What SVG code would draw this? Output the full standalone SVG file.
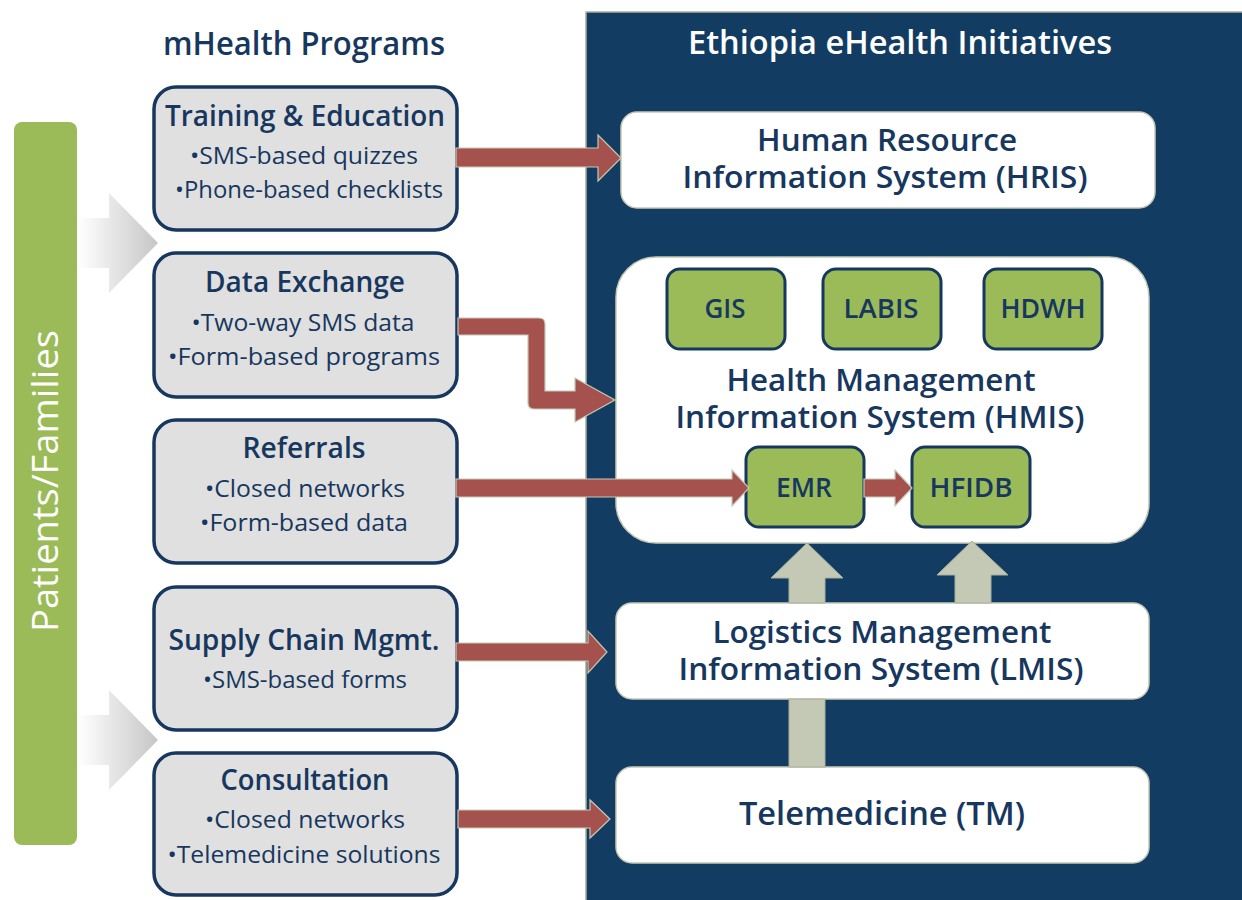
<svg xmlns="http://www.w3.org/2000/svg" width="1242" height="900" viewBox="0 0 1242 900">
<style>
  text { font-family: "Open Sans", "DejaVu Sans Condensed", "Liberation Sans", sans-serif; font-weight: 600; fill: #17375e; text-anchor: middle; }
  .hdr { font-size: 32px; }
  .hdrw { font-size: 32px; fill: #ffffff; }
  .prog { fill: #e0e0e0; stroke: #17375e; stroke-width: 3.5; }
  .ptitle { font-size: 28px; }
  .pbul { font-size: 24px; font-weight: 500; }
  .sys { fill: #ffffff; stroke: #c4c9b5; stroke-width: 1.5; }
  .systxt { font-size: 30px; }
  .sub { fill: #9bbb59; stroke: #17375e; stroke-width: 3; }
  .subtxt { font-size: 27px; }
  .red { fill: #a5524f; stroke: #c4c9b5; stroke-width: 1.2; }
  .up { fill: #c4c9b5; stroke: #a9ae98; stroke-width: 1; }
</style>
<defs>
  <linearGradient id="gArrow" x1="0" y1="0" x2="1" y2="0">
    <stop offset="0" stop-color="#ffffff"/>
    <stop offset="1" stop-color="#c6c6c6"/>
  </linearGradient>
</defs>
<rect x="0" y="0" width="1242" height="900" fill="#ffffff"/>

<g id="panel">
  <rect x="586" y="12" width="660" height="892" fill="#133c63" stroke="#a9ae98" stroke-width="1.5"/>
  <text class="hdrw" x="900" y="54" textLength="424" lengthAdjust="spacingAndGlyphs">Ethiopia eHealth Initiatives</text>
</g>

<g id="mhealth-title">
  <text class="hdr" x="304" y="55" textLength="282" lengthAdjust="spacingAndGlyphs">mHealth Programs</text>
</g>

<g id="patients">
  <rect x="14" y="122" width="63" height="723" rx="8" fill="#9bbb59"/>
  <text transform="translate(58,481) rotate(-90)" x="0" y="0" style="font-size:36px;font-weight:400;fill:#ffffff" textLength="302" lengthAdjust="spacingAndGlyphs">Patients/Families</text>
</g>

<g id="flow-arrows">
  <path d="M78,218 H109 V193 L158,243 L109,293 V268 H78 Z" fill="url(#gArrow)"/>
  <path d="M78,715 H109 V690 L158,740 L109,790 V765 H78 Z" fill="url(#gArrow)"/>
</g>

<g id="training">
  <rect class="prog" x="154" y="87" width="303" height="143" rx="22"/>
  <text class="ptitle" x="305" y="126" textLength="280" lengthAdjust="spacingAndGlyphs">Training &amp; Education</text>
  <text class="pbul" x="304" y="164" textLength="228" lengthAdjust="spacingAndGlyphs">•SMS-based quizzes</text>
  <text class="pbul" x="309" y="198" textLength="268" lengthAdjust="spacingAndGlyphs">•Phone-based checklists</text>
</g>
<g id="data-exchange">
  <rect class="prog" x="154" y="253" width="303" height="144" rx="22"/>
  <text class="ptitle" x="305" y="292" textLength="200" lengthAdjust="spacingAndGlyphs">Data Exchange</text>
  <text class="pbul" x="303" y="331" textLength="223" lengthAdjust="spacingAndGlyphs">•Two-way SMS data</text>
  <text class="pbul" x="304" y="365" textLength="272" lengthAdjust="spacingAndGlyphs">•Form-based  programs</text>
</g>
<g id="referrals">
  <rect class="prog" x="154" y="420" width="303" height="143" rx="22"/>
  <text class="ptitle" x="304" y="458" textLength="123" lengthAdjust="spacingAndGlyphs">Referrals</text>
  <text class="pbul" x="305" y="497" textLength="200" lengthAdjust="spacingAndGlyphs">•Closed networks</text>
  <text class="pbul" x="304" y="531" textLength="208" lengthAdjust="spacingAndGlyphs">•Form-based data</text>
</g>
<g id="supply-chain">
  <rect class="prog" x="154" y="587" width="303" height="143" rx="22"/>
  <text class="ptitle" x="304" y="650" textLength="271" lengthAdjust="spacingAndGlyphs">Supply Chain Mgmt.</text>
  <text class="pbul" x="305" y="688" textLength="204" lengthAdjust="spacingAndGlyphs">•SMS-based forms</text>
</g>
<g id="consultation">
  <rect class="prog" x="154" y="753" width="303" height="142" rx="22"/>
  <text class="ptitle" x="305" y="790" textLength="169" lengthAdjust="spacingAndGlyphs">Consultation</text>
  <text class="pbul" x="305" y="828" textLength="200" lengthAdjust="spacingAndGlyphs">•Closed networks</text>
  <text class="pbul" x="304" y="863" textLength="273" lengthAdjust="spacingAndGlyphs">•Telemedicine solutions</text>
</g>

<g id="hris">
  <rect class="sys" x="621" y="112" width="534" height="96" rx="16"/>
  <text class="systxt" x="887" y="151" textLength="260" lengthAdjust="spacingAndGlyphs">Human Resource</text>
  <text class="systxt" x="885" y="188" textLength="405" lengthAdjust="spacingAndGlyphs">Information System (HRIS)</text>
</g>
<g id="hmis">
  <rect class="sys" x="616" y="257" width="533" height="286" rx="40"/>
  <text class="systxt" x="881" y="391" textLength="309" lengthAdjust="spacingAndGlyphs">Health Management</text>
  <text class="systxt" x="880" y="428" textLength="409" lengthAdjust="spacingAndGlyphs">Information System (HMIS)</text>
</g>
<g id="gis">
  <rect class="sub" x="667" y="269" width="118" height="80" rx="13"/>
  <text class="subtxt" x="725" y="318" textLength="41" lengthAdjust="spacingAndGlyphs">GIS</text>
</g>
<g id="labis">
  <rect class="sub" x="823" y="269" width="118" height="80" rx="13"/>
  <text class="subtxt" x="881" y="318" textLength="75" lengthAdjust="spacingAndGlyphs">LABIS</text>
</g>
<g id="hdwh">
  <rect class="sub" x="984" y="269" width="118" height="80" rx="13"/>
  <text class="subtxt" x="1043" y="318" textLength="85" lengthAdjust="spacingAndGlyphs">HDWH</text>
</g>
<g id="emr">
  <rect class="sub" x="746" y="447" width="118" height="80" rx="13"/>
  <text class="subtxt" x="804" y="497" textLength="56" lengthAdjust="spacingAndGlyphs">EMR</text>
</g>
<g id="hfidb">
  <rect class="sub" x="912" y="447" width="118" height="80" rx="13"/>
  <text class="subtxt" x="971" y="497" textLength="83" lengthAdjust="spacingAndGlyphs">HFIDB</text>
</g>
<g id="lmis">
  <rect class="sys" x="616" y="603" width="533" height="96" rx="16"/>
  <text class="systxt" x="882" y="643" textLength="339" lengthAdjust="spacingAndGlyphs">Logistics Management</text>
  <text class="systxt" x="881" y="680" textLength="405" lengthAdjust="spacingAndGlyphs">Information System (LMIS)</text>
</g>
<g id="tm">
  <rect class="sys" x="616" y="767" width="533" height="96" rx="16"/>
  <text class="systxt" x="882" y="825" style="font-size:32px" textLength="286" lengthAdjust="spacingAndGlyphs">Telemedicine (TM)</text>
</g>

<g id="connectors">
  <path class="red" d="M456,148 H598 V135 L621,158 L598,181 V167 H456 Z"/>
  <path class="red" d="M458,318 H539 Q545,318 545,324 V391 H575 V378 L615,400 L575,422 V409 H534 Q528,409 528,403 V335 H458 Z"/>
  <path class="red" d="M456,479 H732 V470 L749,488 L732,506 V497 H456 Z"/>
  <path class="red" d="M864,479 H895 V470 L912,488 L895,506 V497 H864 Z"/>
  <path class="red" d="M456,643 H588 V631 L607,652 L588,673 V661 H456 Z"/>
  <path class="red" d="M458,810 H590 V800 L610,819 L590,838 V828 H458 Z"/>
  <path class="up" d="M789,603 V578 H771 L807,543 L843,578 H825 V603 Z"/>
  <path class="up" d="M955,603 V575 H937 L972,541 L1008,575 H991 V603 Z"/>
  <rect class="up" x="789" y="699" width="36" height="68"/>
</g>
</svg>
